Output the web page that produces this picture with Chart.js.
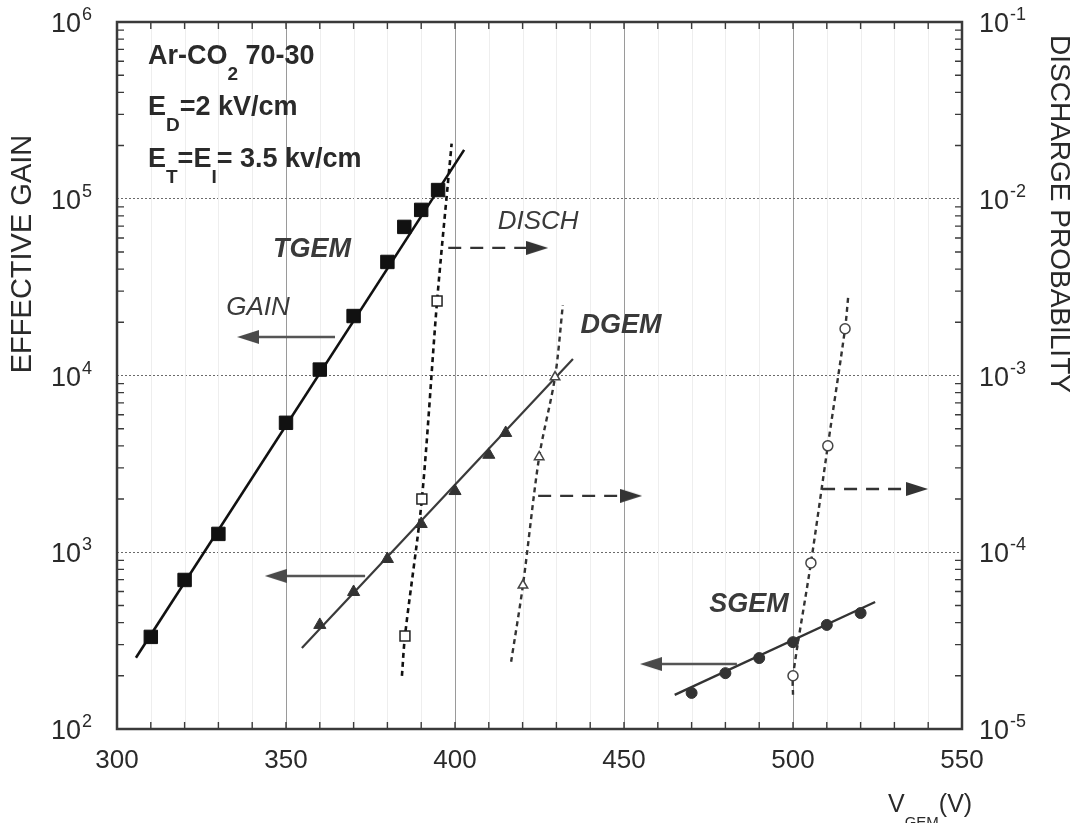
<!DOCTYPE html>
<html>
<head>
<meta charset="utf-8">
<script src="https://cdn.jsdelivr.net/npm/chart.js@4.4.0/dist/chart.umd.min.js"></script>
<style>
  html, body { margin: 0; padding: 0; background: #fff; }
</style>
</head>
<body>
<canvas id="c" width="1077" height="823"></canvas>
<script>
// ---- gain measurements (left axis) ----
const tgemV = [310, 320, 330, 350, 360, 370, 380, 385, 390, 395];
const tgemGain = [332, 697, 1270, 5400, 10800, 21700, 43900, 69300, 86500, 112000];
const dgemV = [360, 370, 380, 390, 400, 410, 415];
const dgemGain = [388, 596, 916, 1445, 2220, 3560, 4730];
const sgemV = [470, 480, 490, 500, 510, 520];
const sgemGain = [160, 207, 252, 310, 388, 453];

// gain fit lines
const tgemFitV = [305.6, 402.7];
const tgemFitGain = [253, 189000];
const dgemFitV = [354.7, 434.9];
const dgemFitGain = [287, 12400];
const sgemFitV = [465, 524.3];
const sgemFitGain = [156, 523];

// ---- discharge probability (right axis) ----
const tgemDischV = [385.2, 390.2, 394.7];
const tgemDisch = [3.36e-5, 2.0e-4, 2.64e-3];
const dgemDischV = [420.1, 424.9, 429.6];
const dgemDisch = [6.5e-5, 3.46e-4, 9.8e-4];
const sgemDischV = [500, 505.3, 510.3, 515.4];
const sgemDisch = [2.0e-5, 8.7e-5, 4.0e-4, 1.84e-3];

// discharge curves
const tgemDischFitV = [384.3, 385.2, 390.2, 394.7, 399];
const tgemDischFit = [2.0e-5, 3.36e-5, 2.0e-4, 2.64e-3, 2.05e-2];
const dgemDischFitV = [416.6, 420.1, 424.9, 429.6, 431.9];
const dgemDischFit = [2.4e-5, 6.5e-5, 3.46e-4, 9.8e-4, 2.5e-3];
const sgemDischFitV = [500, 500, 505.3, 510.3, 515.4, 516.3];
const sgemDischFit = [1.56e-5, 2.0e-5, 8.7e-5, 4.0e-4, 1.84e-3, 2.75e-3];

// arrows: [start, end] in V, level on the relevant axis
const gainArrowV = [[364.5, 338.8], [373.4, 347.0], [483.4, 458.0]];
const gainArrowLevel = [16500, 734, 233];
const dischArrowV = [[398, 424.3], [424.6, 452.1], [508.6, 536.7]];
const dischArrowLevel = [5.27e-3, 2.085e-4, 2.28e-4];

// ---- axes ----
const xTicks = [300, 350, 400, 450, 500, 550];
const gainDecades = [1e2, 1e3, 1e4, 1e5, 1e6];
const gainExp = ['2', '3', '4', '5', '6'];
const dischDecades = [1e-5, 1e-4, 1e-3, 1e-2, 1e-1];
const dischExp = ['-5', '-4', '-3', '-2', '-1'];

const FONT = '"Liberation Sans", Arial, Helvetica, sans-serif';
const TXT = '#2a2a2a';

function pts(xs, ys) {
  return xs.map((x, i) => ({ x: x, y: ys[i] }));
}

function headImage(color) {
  const c = document.createElement('canvas');
  c.width = 22; c.height = 14;
  const g = c.getContext('2d');
  g.fillStyle = color;
  g.beginPath();
  g.moveTo(0, 0); g.lineTo(22, 7); g.lineTo(0, 14); g.closePath();
  g.fill();
  return c;
}
const solidHead = headImage('#4a4a4a');
const dashHead = headImage('#333');

function markers(xs, ys, axis, style, radius, fill, border, bw) {
  return {
    data: pts(xs, ys), yAxisID: axis, showLine: false,
    pointStyle: style, pointRadius: radius, pointBackgroundColor: fill,
    pointBorderColor: border, pointBorderWidth: bw
  };
}

function line(xs, ys, axis, color, width, dash, tension) {
  return {
    data: pts(xs, ys), yAxisID: axis, showLine: true, pointRadius: 0,
    borderColor: color, borderWidth: width, borderDash: dash, tension: tension || 0,
    fill: false
  };
}

function arrow(xs, level, axis, head, rot, color, width, dash) {
  return {
    data: pts(xs, [level, level]), yAxisID: axis, showLine: true,
    borderColor: color, borderWidth: width, borderDash: dash, fill: false,
    pointStyle: head, pointRotation: rot,
    pointRadius: (c) => c.dataIndex === 1 ? 10 : 0
  };
}

const datasets = [
  markers(tgemV, tgemGain, 'y', 'rect', 9.5, '#111', '#111', 1),
  markers(dgemV, dgemGain, 'y', 'triangle', 7, '#333', '#333', 1),
  markers(sgemV, sgemGain, 'y', 'circle', 5.5, '#333', '#333', 1),
  markers(tgemDischV, tgemDisch, 'y2', 'rect', 7, '#fff', '#222', 1.5),
  markers(dgemDischV, dgemDisch, 'y2', 'triangle', 5.5, '#fff', '#444', 1.5),
  markers(sgemDischV, sgemDisch, 'y2', 'circle', 5, '#fff', '#444', 1.5),
  line(tgemFitV, tgemFitGain, 'y', '#111', 2.6, []),
  line(dgemFitV, dgemFitGain, 'y', '#3a3a3a', 2.2, []),
  line(sgemFitV, sgemFitGain, 'y', '#333', 2.4, []),
  line(tgemDischFitV, tgemDischFit, 'y2', '#111', 2.6, [5, 4], 0.3),
  line(dgemDischFitV, dgemDischFit, 'y2', '#333', 2.4, [5, 4], 0.3),
  line(sgemDischFitV, sgemDischFit, 'y2', '#333', 2.4, [5, 4], 0.3)
];
gainArrowV.forEach((xs, i) => {
  datasets.push(arrow(xs, gainArrowLevel[i], 'y', solidHead, 180, '#555', 2.6, []));
});
dischArrowV.forEach((xs, i) => {
  datasets.push(arrow(xs, dischArrowLevel[i], 'y2', dashHead, 0, '#333', 2.4, [13, 9]));
});

// text with subscript runs
function runs(ctx, parts, x, y, size, weight, subScale) {
  let cx = x;
  parts.forEach((p) => {
    const fs = p.sub ? Math.round(size * (subScale || 0.7)) : size;
    ctx.font = (weight || '') + ' ' + fs + 'px ' + FONT;
    const by = p.sub ? y + size * 0.58 : y;
    ctx.fillText(p.t, cx, by);
    cx += ctx.measureText(p.t).width;
  });
}

function pow(ctx, exp, x, y, align) {
  ctx.font = '27px ' + FONT;
  const w1 = ctx.measureText('10').width;
  ctx.font = '18px ' + FONT;
  const w2 = ctx.measureText(exp).width;
  const x0 = align === 'right' ? x - w1 - w2 - 1 : x;
  ctx.textAlign = 'left';
  ctx.textBaseline = 'alphabetic';
  ctx.font = '27px ' + FONT;
  ctx.fillText('10', x0, y + 10);
  ctx.font = '18px ' + FONT;
  ctx.fillText(exp, x0 + w1 + 1, y - 2);
}

const decor = {
  id: 'decor',
  beforeDatasetsDraw(chart) {
    const { ctx, chartArea: a, scales } = chart;
    ctx.save();
    ctx.strokeStyle = '#eeeeee';
    ctx.lineWidth = 1;
    for (let v = 310; v < 550; v += 10) {
      if (v % 50 === 0) continue;
      const px = Math.round(scales.x.getPixelForValue(v)) + 0.5;
      ctx.beginPath(); ctx.moveTo(px, a.top); ctx.lineTo(px, a.bottom); ctx.stroke();
    }
    ctx.restore();
  },
  afterDraw(chart) {
    const { ctx, chartArea: a, scales } = chart;
    const sx = scales.x, sy = scales.y, sy2 = scales.y2;
    ctx.save();
    ctx.fillStyle = TXT;
    ctx.strokeStyle = '#3a3a3a';

    // minor ticks
    ctx.lineWidth = 1.4;
    for (let v = 310; v < 550; v += 10) {
      const px = sx.getPixelForValue(v);
      ctx.beginPath();
      ctx.moveTo(px, a.bottom); ctx.lineTo(px, a.bottom - 7);
      ctx.moveTo(px, a.top); ctx.lineTo(px, a.top + 7);
      ctx.stroke();
    }
    gainDecades.slice(0, -1).forEach((d) => {
      for (let m = 2; m <= 9; m++) {
        const py = sy.getPixelForValue(d * m);
        ctx.beginPath();
        ctx.moveTo(a.left, py); ctx.lineTo(a.left + 7, py);
        ctx.moveTo(a.right, py); ctx.lineTo(a.right - 7, py);
        ctx.stroke();
      }
    });

    // frame
    ctx.lineWidth = 2.5;
    ctx.strokeRect(a.left, a.top, a.right - a.left, a.bottom - a.top);

    // bottom tick labels
    ctx.font = '26px ' + FONT;
    ctx.textAlign = 'center';
    ctx.textBaseline = 'alphabetic';
    xTicks.forEach((v) => ctx.fillText(String(v), sx.getPixelForValue(v), 768));

    // left and right tick labels
    gainDecades.forEach((v, i) => pow(ctx, gainExp[i], 92, sy.getPixelForValue(v), 'right'));
    dischDecades.forEach((v, i) => pow(ctx, dischExp[i], 979, sy2.getPixelForValue(v), 'left'));

    // axis titles
    ctx.textAlign = 'center';
    ctx.textBaseline = 'middle';
    ctx.font = '29px ' + FONT;
    ctx.save();
    ctx.translate(23, 254); ctx.rotate(-Math.PI / 2);
    ctx.fillText('EFFECTIVE GAIN', 0, 0);
    ctx.restore();
    ctx.font = '28px ' + FONT;
    ctx.save();
    ctx.translate(1059, 214); ctx.rotate(Math.PI / 2);
    ctx.fillText('DISCHARGE PROBABILITY', 0, 0);
    ctx.restore();

    ctx.textAlign = 'left';
    ctx.textBaseline = 'alphabetic';
    runs(ctx, [{ t: 'V' }, { t: 'GEM', sub: true }, { t: '(V)' }], 888, 812, 25, '', 0.6);

    // condition block
    runs(ctx, [{ t: 'Ar-CO' }, { t: '2', sub: true }, { t: ' 70-30' }], 148, 64, 27, 'bold');
    runs(ctx, [{ t: 'E' }, { t: 'D', sub: true }, { t: '=2 kV/cm' }], 148, 115, 27, 'bold');
    runs(ctx, [{ t: 'E' }, { t: 'T', sub: true }, { t: '=E' }, { t: 'I', sub: true }, { t: '= 3.5 kv/cm' }], 148, 167, 27, 'bold');

    // curve annotations
    ctx.textAlign = 'center';
    ctx.textBaseline = 'middle';
    ctx.fillStyle = '#3a3a3a';
    ctx.font = 'italic bold 27px ' + FONT;
    ctx.fillText('TGEM', sx.getPixelForValue(357.7), sy.getPixelForValue(51400));
    ctx.fillText('DGEM', sx.getPixelForValue(449.1), sy.getPixelForValue(19100));
    ctx.fillText('SGEM', sx.getPixelForValue(487), sy.getPixelForValue(504));
    ctx.font = 'italic 26px ' + FONT;
    ctx.fillText('GAIN', sx.getPixelForValue(341.7), sy.getPixelForValue(24200));
    ctx.fillText('DISCH', sx.getPixelForValue(424.6), sy.getPixelForValue(74000));
    ctx.restore();
  }
};

new Chart(document.getElementById('c'), {
  type: 'scatter',
  data: { datasets: datasets },
  options: {
    responsive: false,
    animation: false,
    layout: { padding: { left: 117, right: 115, top: 22, bottom: 94 } },
    plugins: { legend: { display: false }, tooltip: { enabled: false } },
    scales: {
      x: {
        type: 'linear', min: 300, max: 550,
        ticks: { display: false, stepSize: 50 },
        grid: { color: '#9a9a9a', lineWidth: 1, drawTicks: false },
        border: { display: false }
      },
      y: {
        type: 'logarithmic', min: 100, max: 1e6,
        afterBuildTicks: (s) => { s.ticks = gainDecades.map((v) => ({ value: v })); },
        ticks: { display: false },
        grid: { color: '#6a6a6a', lineWidth: 1, drawTicks: false },
        border: { display: false, dash: [2, 2] }
      },
      y2: {
        type: 'logarithmic', position: 'right', min: 1e-5, max: 1e-1,
        ticks: { display: false },
        grid: { display: false, drawTicks: false },
        border: { display: false }
      }
    }
  },
  plugins: [decor]
});
</script>
</body>
</html>
